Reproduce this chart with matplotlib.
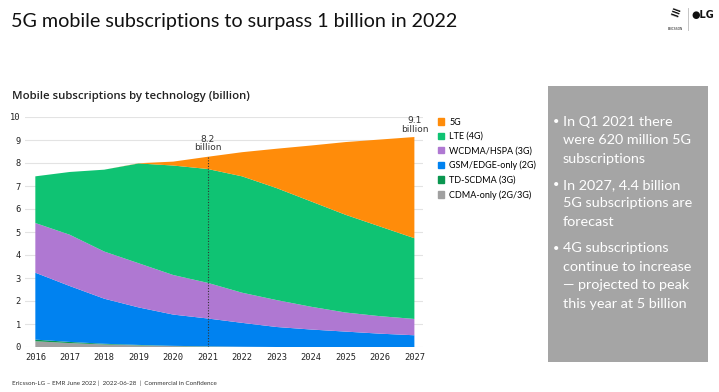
import matplotlib.pyplot as plt
from matplotlib.patches import Rectangle
from matplotlib.lines import Line2D

# data (billion subscriptions)
years = [2016, 2017, 2018, 2019, 2020, 2021, 2022, 2023, 2024, 2025, 2026, 2027]
cdma = [0.25, 0.17, 0.11, 0.07, 0.04, 0.02, 0.01, 0, 0, 0, 0, 0]
td_scdma = [0.07, 0.05, 0.03, 0.02, 0.01, 0.01, 0, 0, 0, 0, 0, 0]
gsm = [2.91, 2.43, 1.96, 1.63, 1.36, 1.21, 1.04, 0.87, 0.76, 0.67, 0.58, 0.51]
wcdma = [2.16, 2.23, 2.05, 1.92, 1.72, 1.55, 1.31, 1.17, 0.99, 0.83, 0.76, 0.71]
lte = [2.03, 2.73, 3.56, 4.34, 4.76, 4.95, 5.06, 4.87, 4.58, 4.25, 3.90, 3.51]
nr5g = [0, 0, 0, 0.01, 0.17, 0.53, 1.05, 1.71, 2.43, 3.16, 3.78, 4.40]

series = [cdma, td_scdma, gsm, wcdma, lte, nr5g]
labels = ['CDMA-only (2G/3G)', 'TD-SCDMA (3G)', 'GSM/EDGE-only (2G)',
          'WCDMA/HSPA (3G)', 'LTE (4G)', '5G']
colors = ['#a0a0a0', '#0a9650', '#0082f0', '#af78d2', '#0fc373', '#ff8c0a']

callouts = [(2021, '8.2\nbillion'), (2027, '9.1\nbillion')]

bullets = [
    ['In Q1 2021 there', 'were 620 million 5G', 'subscriptions'],
    ['In 2027, 4.4 billion', '5G subscriptions are', 'forecast'],
    ['4G subscriptions', 'continue to increase', '\u2014 projected to peak', 'this year at 5 billion'],
]

W, H = 719, 392
fig = plt.figure(figsize=(W / 100, H / 100), dpi=100)
fig.patch.set_facecolor('white')

ax = fig.add_axes([25 / W, 1 - 347 / H, 398 / W, 230 / H])
ax.stackplot(years, *series, colors=colors, linewidth=0)

totals = [sum(v) for v in zip(*series)]
for yr, txt in callouts:
    i = years.index(yr)
    if yr == 2021:
        ax.vlines(yr, 0, totals[i], colors='#333333', linestyles=(0, (1, 1.5)), linewidth=0.8)
        ax.text(yr, totals[i] + 0.2, txt, ha='center', va='bottom', fontsize=6.5,
                color='#333333', linespacing=0.9)
    else:
        ax.text(yr, totals[i] + 0.15, txt, ha='center', va='bottom', fontsize=6.5,
                color='#333333', linespacing=0.9)

ax.set_xlim(2015.7, 2027.25)
ax.set_ylim(0, 10)
ax.set_yticks(range(0, 11))
ax.set_xticks(years)
ax.grid(axis='y', color='#e3e3e3', linewidth=0.8)
ax.set_axisbelow(True)
for s in ax.spines.values():
    s.set_visible(False)
ax.tick_params(length=0, labelsize=6.3, colors='#222222')
ax.tick_params(axis='y', pad=3)
ax.tick_params(axis='x', pad=4)
for lab in ax.get_xticklabels() + ax.get_yticklabels():
    lab.set_family('DejaVu Sans Mono')

# legend
handles = [Rectangle((0, 0), 1, 1, color=c) for c in colors[::-1]]
fig.legend(handles, labels[::-1], loc='upper left', bbox_to_anchor=(433 / W, 1 - 113 / H),
           frameon=False, handlelength=0.7, handleheight=0.7,
           handletextpad=0.6, labelspacing=0.6, borderpad=0, prop={'family': 'Lato', 'size': 6.5})

# titles
fig.text(11 / W, 1 - 22 / H, '5G mobile subscriptions to surpass 1 billion in 2022',
         fontsize=14.2, family='Lato', va='center', color='#111111')
fig.text(12 / W, 1 - 97 / H, 'Mobile subscriptions by technology (billion)',
         fontsize=8.2, family='Open Sans', weight='semibold', va='center', color='#222222')
fig.text(12 / W, 1 - 383 / H,
         'Ericsson-LG \u2013 EMR June 2022 |  2022-06-28  |  Commercial in Confidence',
         fontsize=4.5, family='Lato', va='center', color='#333333')

# logos (approximate)
fig.text(675 / W, 1 - 14 / H, '\u2261', fontsize=9, weight='bold', ha='center', va='center',
         rotation=-20, color='#111111')
fig.text(675 / W, 1 - 29 / H, 'ERICSSON', fontsize=2.2, ha='center', va='center', color='#111111')
fig.add_artist(Line2D([688 / W, 688 / W], [1 - 8 / H, 1 - 30 / H], color='#bbbbbb', linewidth=0.6))
fig.text(703 / W, 1 - 15 / H, '\u25cfLG', fontsize=7, weight='bold', ha='center', va='center',
         color='#111111')

# grey side box
fig.add_artist(Rectangle((548 / W, 1 - 362 / H), 160 / W, 276 / H,
                         facecolor='#a5a5a5', edgecolor='none', transform=fig.transFigure))
y = 121.5
for block in bullets:
    fig.text(553 / W, 1 - y / H, '\u2022', fontsize=8, family='Lato', color='white', va='center')
    for line in block:
        fig.text(563 / W, 1 - y / H, line, fontsize=10.4, family='Lato', color='white', va='center')
        y += 18.6
    y += 7.5

fig.savefig('out.png', dpi=100)
